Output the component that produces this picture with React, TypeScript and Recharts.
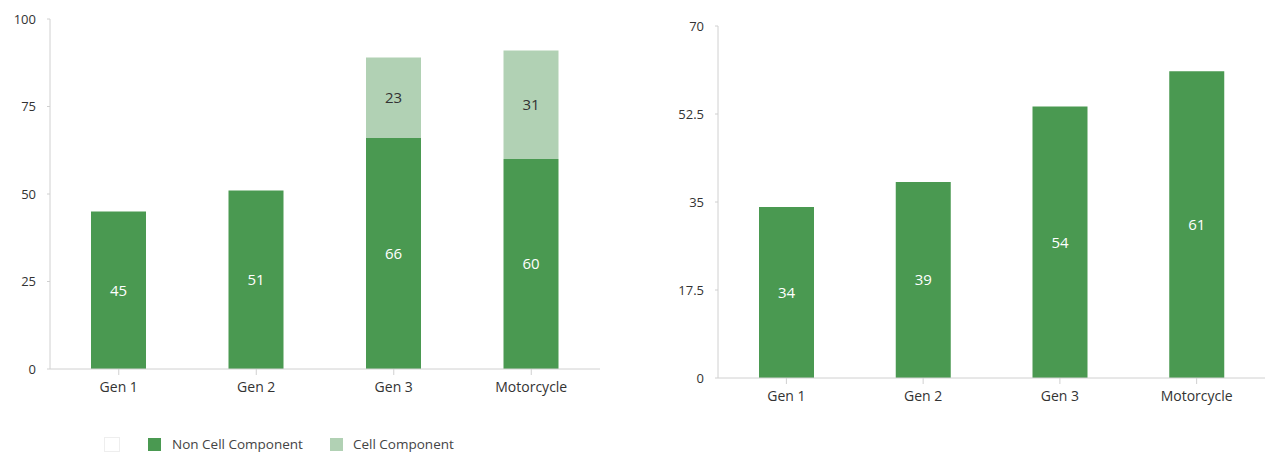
import { BarChart, Bar, XAxis, YAxis, LabelList } from "recharts";

const categories = ["Gen 1", "Gen 2", "Gen 3", "Motorcycle"];
const nonCell = [45, 51, 66, 60];
const cell = [null, null, 23, 31];
const leftTicks = [0, 25, 50, 75, 100];

const rightValues = [34, 39, 54, 61];
const rightTicks = [0, 17.5, 35, 52.5, 70];

const DARK = "#4a9951";
const LIGHT = "#b1d1b4";
const AXIS = "#d0d0d0";
const FONT = "'Open Sans', sans-serif";

const leftData = categories.map((name, i) => ({ name, nonCell: nonCell[i], cell: cell[i] }));
const rightData = categories.map((name, i) => ({ name, value: rightValues[i] }));

const xTick = { fill: "#333", fontSize: 14, fontFamily: FONT };
const yTick = { fill: "#333", fontSize: 13, fontFamily: FONT };

export default function App() {
  return (
    <div style={{ position: "absolute", left: 0, top: 0, width: 1265, height: 452, background: "#fff", fontFamily: FONT }}>
      <div style={{ position: "absolute", left: 0, top: 0 }}>
        <BarChart width={610} height={400} data={leftData} margin={{ top: 19, right: 10, left: 0, bottom: 0 }}>
          <XAxis dataKey="name" height={31} stroke={AXIS} tick={xTick} tickMargin={7} interval={0} />
          <YAxis domain={[0, 100]} ticks={leftTicks} width={50} stroke={AXIS} tick={yTick} tickSize={3} tickMargin={11} />
          <Bar dataKey="nonCell" stackId="a" fill={DARK} barSize={55} isAnimationActive={false}>
            <LabelList dataKey="nonCell" position="center" fill="#fff" fontSize={15} fontFamily={FONT} />
          </Bar>
          <Bar dataKey="cell" stackId="a" fill={LIGHT} barSize={55} isAnimationActive={false}>
            <LabelList dataKey="cell" position="center" fill="#333" fontSize={15} fontFamily={FONT} />
          </Bar>
        </BarChart>
      </div>
      <div style={{ position: "absolute", left: 668, top: 0 }}>
        <BarChart width={597} height={409} data={rightData} margin={{ top: 26, right: 0, left: 0, bottom: 0 }}>
          <XAxis dataKey="name" height={31} stroke={AXIS} tick={xTick} tickMargin={7} interval={0} />
          <YAxis domain={[0, 70]} ticks={rightTicks} width={50} stroke={AXIS} tick={yTick} tickSize={3} tickMargin={11} />
          <Bar dataKey="value" fill={DARK} barSize={55} isAnimationActive={false}>
            <LabelList dataKey="value" position="center" fill="#fff" fontSize={15} fontFamily={FONT} />
          </Bar>
        </BarChart>
      </div>
      <div style={{ position: "absolute", left: 104, top: 437, height: 15, display: "flex", alignItems: "center", fontSize: 13.5, lineHeight: "15px", color: "#444" }}>
        <span style={{ width: 16, height: 15, boxSizing: "border-box", border: "1px solid #eee", display: "inline-block" }} />
        <span style={{ width: 13, height: 13, background: DARK, display: "inline-block", marginLeft: 28, marginRight: 11 }} />
        <span>Non Cell Component</span>
        <span style={{ width: 13, height: 13, background: LIGHT, display: "inline-block", marginLeft: 27, marginRight: 10 }} />
        <span>Cell Component</span>
      </div>
    </div>
  );
}
